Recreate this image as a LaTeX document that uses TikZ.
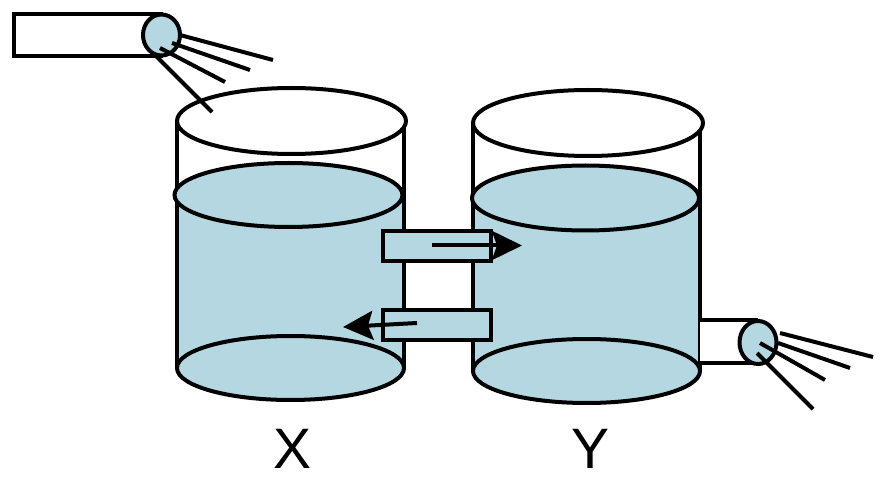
\documentclass[tikz,border=0pt]{standalone}
\usepackage{fontspec}
\setmainfont{Liberation Sans}
\usetikzlibrary{arrows.meta}
\definecolor{water}{RGB}{180,215,226}
\begin{document}
\begin{tikzpicture}[x=1pt,y=-1pt,
  outline/.style={line width=4pt,draw=black},
  spray/.style={line width=4pt,draw=black},
  flow/.style={line width=4pt,-{Stealth[length=30pt,width=29pt,inset=5pt]}},
  label/.style={font=\fontsize{57}{57}\selectfont,inner sep=0pt}]
\useasboundingbox (0,0) rectangle (886,494);
% ---------- tank X ----------
\fill[water] (177,195) rectangle (404,368);
\filldraw[fill=water,outline] (290.5,368) ellipse [x radius=113.5,y radius=32];
\draw[outline] (177,121) -- (177,368);
\draw[outline] (404,121) -- (404,368);
\filldraw[fill=water,outline] (288.5,195) ellipse [x radius=114,y radius=32];
\filldraw[fill=white,outline] (291.5,121) ellipse [x radius=114.5,y radius=33];
% ---------- tank Y ----------
\fill[water] (473,198) rectangle (700,371);
\filldraw[fill=water,outline] (586.5,371) ellipse [x radius=113.5,y radius=32];
\draw[outline] (473,124) -- (473,371);
\draw[outline] (700,124) -- (700,371);
\filldraw[fill=water,outline] (585.5,198) ellipse [x radius=113.5,y radius=32.5];
\filldraw[fill=white,outline] (588,123) ellipse [x radius=115,y radius=33];
% ---------- connecting pipes ----------
\filldraw[fill=water,outline] (383,231) rectangle (491,261);
\filldraw[fill=water,outline] (383,310) rectangle (491,340);
\coordinate (a1s) at (432,245.5);
\coordinate (a1e) at (522,245.5);
\coordinate (a2s) at (417,323);
\coordinate (a2e) at (343,327);
\draw[flow] (a1s) -- (a1e);
\draw[flow] (a2s) -- (a2e);
% ---------- right outlet ----------
\fill[white] (700,320) rectangle (758,363);
\draw[outline] (700,320) -- (758,320);
\draw[outline] (700,363) -- (758,363);
\filldraw[fill=water,outline] (758,342.5) ellipse [x radius=18.5,y radius=21.5];
\draw[spray] (780,333) -- (873,357);
\draw[spray] (778,343) -- (850,368);
\draw[spray] (760,343) -- (825,380);
\draw[spray] (757,353) -- (813,409);
% ---------- top-left inlet ----------
\filldraw[fill=white,outline] (14,14) rectangle (161,56);
\filldraw[fill=water,outline] (161.5,35) ellipse [x radius=18.5,y radius=20.5];
\draw[spray] (180,35) -- (273,60);
\draw[spray] (172,43) -- (250,70);
\draw[spray] (160,48) -- (225,82);
\draw[spray] (155,55) -- (212,112);
% ---------- labels ----------
\node[label] (labX) at (293,449) {X};
\node[label] (labY) at (591,449) {Y};
\end{tikzpicture}
\end{document}
